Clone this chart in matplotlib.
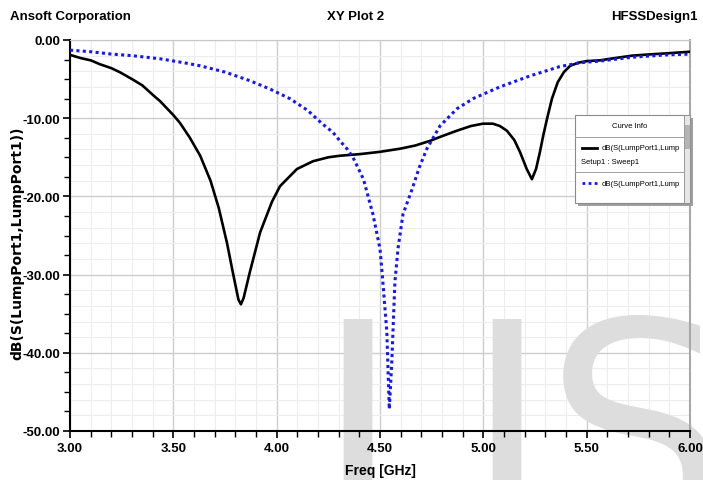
import matplotlib
matplotlib.use('Agg')
import matplotlib.pyplot as plt
from matplotlib.ticker import MultipleLocator
from matplotlib.patches import Rectangle
from matplotlib.lines import Line2D

# --- данные ---
freq_black = [3.00, 3.05, 3.10, 3.145, 3.20, 3.24, 3.30, 3.35, 3.40, 3.435, 3.50, 3.532,
              3.58, 3.63, 3.68, 3.72, 3.76, 3.79, 3.815, 3.827, 3.84, 3.87, 3.92, 3.977,
              4.016, 4.098, 4.176, 4.25, 4.306, 4.40, 4.50, 4.597, 4.67, 4.742, 4.80,
              4.872, 4.94, 4.998, 5.046, 5.08, 5.114, 5.15, 5.177, 5.21, 5.235, 5.255,
              5.274, 5.29, 5.308, 5.332, 5.36, 5.39, 5.42, 5.46, 5.50, 5.564, 5.64,
              5.72, 5.80, 5.89, 6.00]
db_black = [-1.9, -2.3, -2.6, -3.1, -3.6, -4.1, -5.0, -5.8, -7.0, -7.8, -9.6, -10.6,
            -12.5, -14.8, -18.0, -21.5, -26.0, -30.0, -33.2, -33.8, -33.0, -29.7, -24.6, -20.7,
            -18.7, -16.5, -15.5, -15.0, -14.8, -14.6, -14.3, -13.9, -13.5, -12.9, -12.3,
            -11.6, -11.0, -10.7, -10.7, -11.0, -11.6, -12.8, -14.3, -16.5, -17.8, -16.5,
            -14.3, -12.2, -10.1, -7.5, -5.4, -4.1, -3.3, -2.9, -2.7, -2.6, -2.3,
            -2.0, -1.85, -1.7, -1.5]

freq_blue = [3.00, 3.10, 3.20, 3.30, 3.435, 3.55, 3.63, 3.75, 3.87, 3.97, 4.064, 4.15,
             4.22, 4.272, 4.306, 4.34, 4.369, 4.42, 4.466, 4.50, 4.51, 4.533, 4.545,
             4.557, 4.572, 4.587, 4.611, 4.655, 4.69, 4.727, 4.79, 4.872, 4.95, 5.08,
             5.225, 5.37, 5.47, 5.564, 5.72, 5.89, 6.00]
db_blue = [-1.3, -1.5, -1.8, -2.0, -2.4, -2.9, -3.3, -4.1, -5.2, -6.3, -7.5, -9.0,
           -10.7, -11.8, -12.9, -13.9, -15.0, -17.8, -22.3, -26.7, -29.7, -37.3, -47.2,
           -41.2, -31.0, -26.7, -22.3, -19.1, -16.3, -13.9, -11.0, -8.8, -7.5, -6.0,
           -4.6, -3.4, -2.9, -2.7, -2.2, -1.9, -1.8]

x_ticks = [3.00, 3.50, 4.00, 4.50, 5.00, 5.50, 6.00]
y_ticks = [0, -10, -20, -30, -40, -50]

legend_names = ['dB(S(LumpPort1,Lump', 'Setup1 : Sweep1', 'dB(S(LumpPort1,Lump']

SANS = ['Liberation Sans', 'DejaVu Sans']


def fx(px):
    return px / 703


def fy(py):
    return 1 - py / 481


fig = plt.figure(figsize=(7.03, 4.81), dpi=100)
rect = [fx(70), fy(432), 620 / 703, 391 / 481]

# фон с сеткой (отдельные оси, чтобы водяной знак лёг поверх сетки)
ax_bg = fig.add_axes(rect, zorder=0)
ax_bg.set_xlim(3.0, 6.0)
ax_bg.set_ylim(-50, 0)
ax_bg.xaxis.set_major_locator(MultipleLocator(0.5))
ax_bg.xaxis.set_minor_locator(MultipleLocator(0.1))
ax_bg.yaxis.set_major_locator(MultipleLocator(10))
ax_bg.yaxis.set_minor_locator(MultipleLocator(2))
ax_bg.grid(True, which='major', color='#cdcdcd', linewidth=1.0)
ax_bg.grid(True, which='minor', color='#ededed', linewidth=0.8)
ax_bg.tick_params(which='both', length=0, labelbottom=False, labelleft=False)
for s in ax_bg.spines.values():
    s.set_visible(False)

# водяной знак
for ch, x0 in [('I', 314), ('J', 463), ('S', 544)]:
    fig.text(fx(x0), fy(532), ch, family='DejaVu Sans', fontsize=210, color='#dddddd',
             ha='left', va='baseline', zorder=0.5)

# основные оси
ax = fig.add_axes(rect, zorder=1)
ax.patch.set_visible(False)

ax.plot(freq_black, db_black, color='black', linewidth=1.9, zorder=3)
ax.plot(freq_blue, db_blue, color='#1414ff', linewidth=2.2, linestyle=(0, (1, 1.1)),
        dash_capstyle='butt', zorder=3)

ax.set_xlim(3.0, 6.0)
ax.set_ylim(-50, 0)
ax.xaxis.set_minor_locator(MultipleLocator(0.1))
ax.yaxis.set_minor_locator(MultipleLocator(2.5))
ax.set_xticks(x_ticks)
ax.set_xticklabels(['%.2f' % v for v in x_ticks])
ax.set_yticks(y_ticks)
ax.set_yticklabels(['%.2f' % v for v in y_ticks])

for lab in ax.get_xticklabels() + ax.get_yticklabels():
    lab.set_family(SANS)
    lab.set_fontweight('bold')
    lab.set_fontsize(9.5)
ax.tick_params(which='major', direction='out', length=5, width=1.2, pad=2)
ax.tick_params(which='minor', direction='out', length=4, width=1.0)
ax.tick_params(axis='x', pad=3)

ax.spines['left'].set_linewidth(1.5)
ax.spines['bottom'].set_linewidth(1.5)
ax.spines['top'].set_color('#c8c8c8')
ax.spines['right'].set_color('#a8a8a8')
ax.spines['right'].set_linewidth(1.5)

fig.text(fx(380), fy(471), 'Freq [GHz]', family=SANS, fontweight='bold', fontsize=10,
         ha='center', va='center')
fig.text(fx(17), fy(243), 'dB(S(LumpPort1,LumpPort1))', rotation=90, family='DejaVu Sans',
         ha='center', va='center', fontsize=10, fontweight='bold')

# заголовок
fig.text(fx(10), fy(17), 'Ansoft Corporation', family=SANS, fontweight='bold',
         fontsize=9.5, ha='left', va='center')
fig.text(fx(356), fy(17), 'XY Plot 2', family=SANS, fontweight='bold',
         fontsize=9.5, ha='center', va='center')
fig.text(fx(698), fy(17), 'HFSSDesign1', family=SANS, fontweight='bold',
         fontsize=9.5, ha='right', va='center')

# окно Curve Info
fig.patches.append(Rectangle((fx(578), fy(207)), fx(115), 88 / 481, transform=fig.transFigure,
                             facecolor='#a0a0a0', edgecolor='none', zorder=5))
fig.patches.append(Rectangle((fx(575), fy(204)), fx(115), 88 / 481, transform=fig.transFigure,
                             facecolor='white', edgecolor='#8a8a8a', linewidth=0.8, zorder=6))
fig.patches.append(Rectangle((fx(684), fy(204)), fx(6), 88 / 481, transform=fig.transFigure,
                             facecolor='#e6e6e6', edgecolor='#8a8a8a', linewidth=0.6, zorder=7))
fig.patches.append(Rectangle((fx(684.5), fy(150)), fx(5), 24 / 481, transform=fig.transFigure,
                             facecolor='#b4b4b4', edgecolor='none', zorder=8))
for yy in [138, 173]:
    fig.lines.append(Line2D([fx(575), fx(684)], [fy(yy), fy(yy)], transform=fig.transFigure,
                            color='#a0a0a0', linewidth=0.7, zorder=8))
fig.text(fx(630), fy(127), 'Curve Info', family=SANS, fontsize=5.5, ha='center', va='center',
         zorder=9)
fig.lines.append(Line2D([fx(582), fx(597)], [fy(149), fy(149)], transform=fig.transFigure,
                        color='black', linewidth=2.0, zorder=9))
fig.lines.append(Line2D([fx(582), fx(597)], [fy(184), fy(184)], transform=fig.transFigure,
                        color='#1414ff', linewidth=2.0, linestyle=(0, (1, 1.2)), zorder=9))
for txt, x0, y0 in zip(legend_names, [602, 581, 602], [149, 162, 184]):
    fig.text(fx(x0), fy(y0), txt, family=SANS, fontsize=5.5, ha='left', va='center',
             zorder=9)

fig.savefig('out.png', dpi=100)
